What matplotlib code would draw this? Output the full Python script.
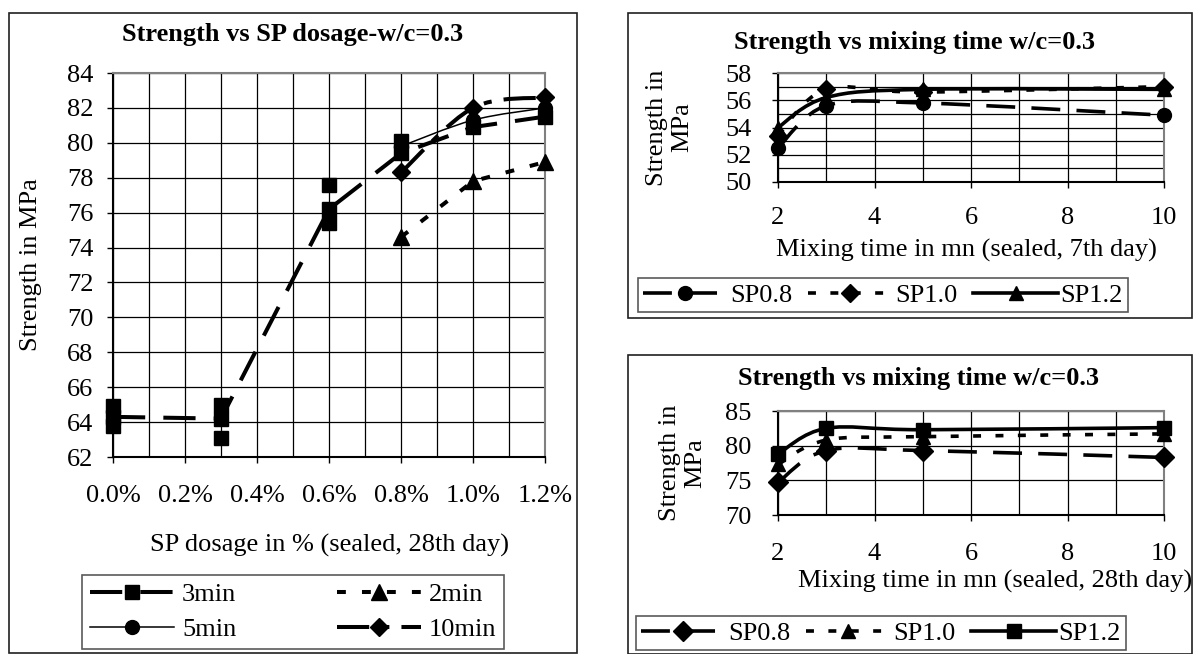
import numpy as np
import matplotlib.pyplot as plt
from matplotlib.path import Path
from matplotlib.patches import PathPatch, Rectangle
from matplotlib.lines import Line2D

plt.rcParams['font.family'] = ['Liberation Serif', 'DejaVu Serif']

# SP dosage chart (28th day, sealed)
dosage = [0.0, 0.3, 0.6, 0.8, 1.0, 1.2]
str_3min = [64.3, 64.2, 76.2, 79.4, 80.9, 81.5]
spec_3min_x = [0.0, 0.0, 0.3, 0.3, 0.6, 0.6, 0.8]
spec_3min_y = [64.9, 63.8, 65.0, 63.1, 77.6, 75.4, 80.1]
dosage_hi = [0.8, 1.0, 1.2]
str_2min = [74.6, 77.8, 78.9]
str_5min = [79.8, 81.3, 82.0]
str_10min = [78.3, 82.0, 82.6]

# mixing time charts
mix_time = [2, 3, 5, 10]
d7_sp08 = [52.5, 55.6, 55.8, 54.9]
d7_sp10 = [53.4, 56.8, 56.6, 57.0]
d7_sp12 = [54.0, 56.2, 56.8, 56.8]
d28_sp08 = [74.7, 79.3, 79.3, 78.3]
d28_sp10 = [77.3, 80.8, 81.3, 81.7]
d28_sp12 = [78.8, 82.5, 82.3, 82.6]

W, H = 1193, 654
FS = 19
fig = plt.figure(figsize=(W / 100, H / 100), dpi=100)


def fx(px):
    return px / W


def fy(py):
    return 1 - py / H


def add_axes(x0, x1, y0, y1):
    return fig.add_axes([fx(x0), fy(y1), (x1 - x0) / W, (y1 - y0) / H])


def smooth_line(ax, x, y, **kw):
    # Bezier curve through the points, like a spreadsheet "smoothed line"
    pts = np.column_stack([x, y]).astype(float)
    n = len(pts)
    verts = [pts[0]]
    codes = [Path.MOVETO]
    for i in range(n - 1):
        p0 = pts[i - 1] if i > 0 else pts[i]
        p1, p2 = pts[i], pts[i + 1]
        p3 = pts[i + 2] if i + 2 < n else pts[i + 1]
        verts += [p1 + (p2 - p0) / 6, p2 - (p3 - p1) / 6, p2]
        codes += [Path.CURVE4] * 3
    patch = PathPatch(Path(verts, codes), fill=False, edgecolor='k',
                      capstyle='butt', joinstyle='round', **kw)
    ax.add_patch(patch)


def style_axes(ax, xpad, ypad):
    for s in ['left', 'bottom']:
        ax.spines[s].set_color('k')
        ax.spines[s].set_linewidth(1.5)
    for s in ['top', 'right']:
        ax.spines[s].set_color('#808080')
        ax.spines[s].set_linewidth(1.5)
    ax.tick_params(which='both', direction='out', length=4, width=1,
                   labelsize=FS, color='k')
    ax.tick_params(axis='x', pad=xpad)
    ax.tick_params(axis='y', pad=ypad)
    ax.tick_params(which='minor', length=0)
    ax.grid(True, which='both', color='k', linewidth=0.9)
    ax.set_axisbelow(True)


def frame(x0, y0, x1, y1):
    fig.patches.append(Rectangle((fx(x0), fy(y1)), (x1 - x0) / W, (y1 - y0) / H,
                                 transform=fig.transFigure, fill=False,
                                 edgecolor='#202020', linewidth=1.2))


def legend(handles, labels, ncol, x0, x1, yc, **kw):
    leg = fig.legend(handles, labels, ncol=ncol, loc='center',
                     bbox_to_anchor=(fx((x0 + x1) / 2), fy(yc)),
                     bbox_transform=fig.transFigure, fontsize=FS, frameon=True,
                     fancybox=False, edgecolor='#303030', numpoints=1,
                     borderaxespad=0, **kw)
    leg.get_frame().set_linewidth(1.2)
    return leg


LONG = (0, (8, 4.5))
SHORT = (0, (2.2, 4))
LONGDOT = (0, (8, 3, 2, 3))
mk = dict(color='k', linestyle='none', clip_on=False, zorder=5)

# ---------------- left: strength vs SP dosage ----------------
frame(9, 13, 577, 653)
ax1 = add_axes(113, 545, 73, 457)
ax1.set_xlim(0, 1.2)
ax1.set_ylim(62, 84)
ax1.set_xticks(np.arange(0, 1.21, 0.2))
ax1.set_xticks(np.arange(0, 1.21, 0.1), minor=True)
ax1.set_yticks(np.arange(62, 85, 2))
ax1.set_xticklabels([f'{v:.1f}%' for v in np.arange(0, 1.21, 0.2)])
style_axes(ax1, 16, 10)

ax1.plot(dosage, str_3min, color='k', lw=2.9, ls=LONG, dash_capstyle='butt')
ax1.plot(dosage_hi, str_2min, color='k', lw=2.9, ls=SHORT, dash_capstyle='butt')
smooth_line(ax1, dosage_hi, str_5min, lw=1.1)
smooth_line(ax1, dosage_hi, str_10min, lw=2.9, linestyle=LONGDOT)
ax1.plot(dosage, str_3min, marker='s', ms=9.5, **mk)
ax1.plot(spec_3min_x, spec_3min_y, marker='s', ms=9.5, **mk)
ax1.plot(dosage_hi, str_2min, marker='^', ms=11, **mk)
ax1.plot(dosage_hi, str_5min, marker='o', ms=10, **mk)
ax1.plot(dosage_hi, str_10min, marker='D', ms=9, **mk)

fig.text(fx(293), fy(35), 'Strength vs SP dosage-w/c=0.3', ha='center', va='center',
         fontsize=FS, fontweight='bold')
fig.text(fx(31), fy(265), 'Strength in MPa', ha='center', va='center',
         rotation=90, fontsize=FS)
fig.text(fx(329), fy(545), 'SP dosage in % (sealed, 28th day)', ha='center',
         va='center', fontsize=FS)

h1 = [Line2D([], [], color='k', lw=2.9, ls=LONG, marker='s', ms=9.5, dash_capstyle='butt'),
      Line2D([], [], color='k', lw=1.1, marker='o', ms=10),
      Line2D([], [], color='k', lw=2.9, ls=SHORT, marker='^', ms=11, dash_capstyle='butt'),
      Line2D([], [], color='k', lw=2.9, ls=LONGDOT, marker='D', ms=9, dash_capstyle='butt')]
legend(h1, ['3min', '5min', '2min', '10min'], 2, 50, 536, 612,
       handlelength=3.2, handletextpad=0.3, columnspacing=3.8,
       labelspacing=0.45, borderpad=0.3)


# ---------------- right: strength vs mixing time ----------------
def mixing_panel(top, bottom, y_lo, y_hi, y_step, minor_step, series, markers,
                 xpad, ylab_x):
    ax = add_axes(778, 1164, top, bottom)
    ax.set_xlim(2, 10)
    ax.set_ylim(y_lo, y_hi)
    ax.set_xticks([2, 4, 6, 8, 10])
    ax.set_xticks(range(2, 11), minor=True)
    ax.set_yticks(np.arange(y_lo, y_hi + 0.1, y_step))
    if minor_step:
        ax.set_yticks(np.arange(y_lo, y_hi + 0.1, minor_step), minor=True)
    style_axes(ax, xpad, 15)
    styles = [(LONG, 2.6), (SHORT, 2.6), ('-', 2.6)]
    handles = []
    for vals, m, (ls, lw) in zip(series, markers, styles):
        smooth_line(ax, mix_time, vals, lw=lw, linestyle=ls)
        ax.plot(mix_time, vals, marker=m[0], ms=m[1], **mk)
        handles.append(Line2D([], [], color='k', lw=lw, ls=ls, marker=m[0], ms=m[1],
                              dash_capstyle='butt'))
    fig.text(fx(ylab_x), fy((top + bottom) / 2), 'Strength in\nMPa', ha='center',
             va='center', rotation=90, fontsize=FS, linespacing=1.2)
    return ax, handles


frame(628, 13, 1192, 318)
ax2, h2 = mixing_panel(73, 182, 50, 58, 2, 1, [d7_sp08, d7_sp10, d7_sp12],
                       [('o', 10), ('D', 9), ('^', 10.5)], 14, 670)
fig.text(fx(915), fy(43), 'Strength vs mixing time w/c=0.3', ha='center',
         va='center', fontsize=FS, fontweight='bold')
fig.text(fx(966), fy(250), 'Mixing time in mn (sealed, 7th day)', ha='center',
         va='center', fontsize=FS)
legend(h2, ['SP0.8', 'SP1.0', 'SP1.2'], 3, 630, 1136, 295,
       handlelength=3.2, handletextpad=0.1, columnspacing=0.6, borderpad=0.2)

frame(628, 355, 1192, 654)
ax3, h3 = mixing_panel(411, 515, 70, 85, 5, None, [d28_sp08, d28_sp10, d28_sp12],
                       [('D', 10), ('^', 10.5), ('s', 9.5)], 16, 683)
fig.text(fx(918), fy(378), 'Strength vs mixing time w/c=0.3', ha='center',
         va='center', fontsize=FS, fontweight='bold')
fig.text(fx(995), fy(581), 'Mixing time in mn (sealed, 28th day)', ha='center',
         va='center', fontsize=FS)
legend(h3, ['SP0.8', 'SP1.0', 'SP1.2'], 3, 628, 1134, 633,
       handlelength=3.2, handletextpad=0.1, columnspacing=0.6, borderpad=0.2)

fig.savefig('out.png', dpi=100)
